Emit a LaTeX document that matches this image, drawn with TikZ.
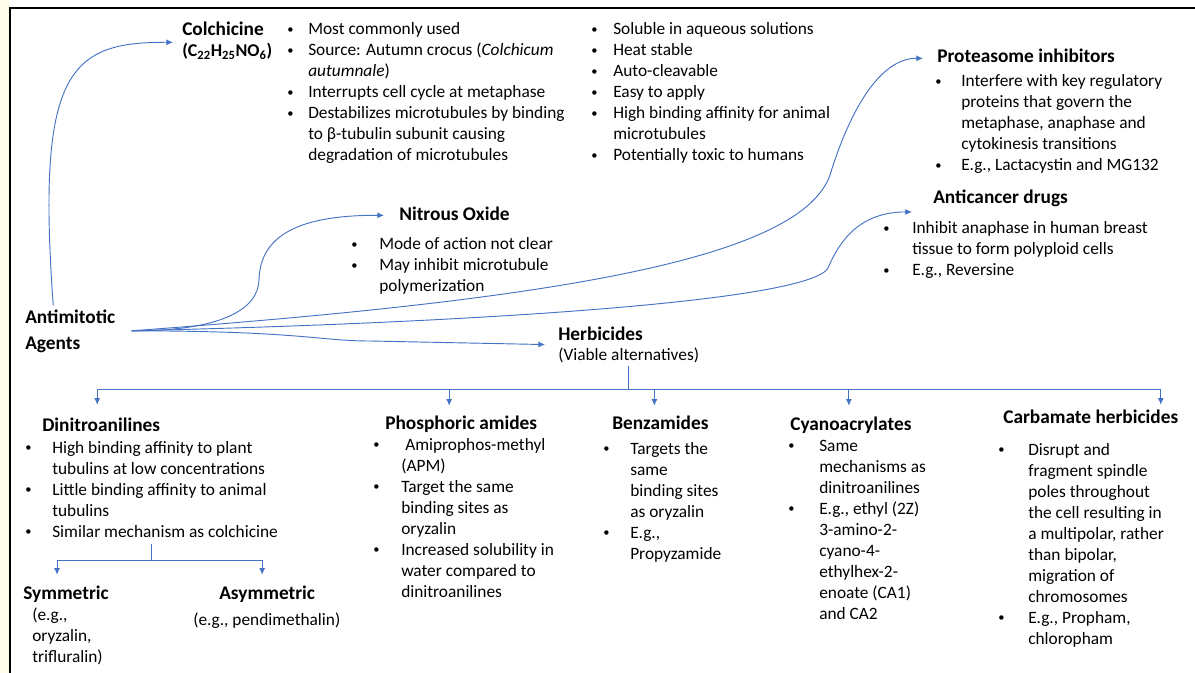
\documentclass[tikz,border=0pt]{standalone}
\usepackage{fontspec}
\setmainfont{Carlito}
\usepackage{graphicx}
\usepackage{tikz}
\usetikzlibrary{arrows.meta}
\usepackage{xcolor}
\definecolor{linkblue}{RGB}{68,114,196}
\definecolor{cream}{RGB}{255,252,236}
\newlength{\px}
\setlength{\px}{0.75pt}
\newcommand{\hd}{\fontsize{14.5}{17.4}\selectfont\bfseries}
\newcommand{\bu}{\raisebox{0.8pt}{\scalebox{0.72}{\textbullet}}}
\newcommand{\itemlist}[2]{\begin{tabular}[t]{@{}p{#1\px}@{}l@{}}#2\end{tabular}}

\begin{document}
\begin{tikzpicture}[x=0.75pt, y=-0.75pt,
    head/.style={font=\hd, inner sep=0pt, anchor=base west, text height=10.5pt, text depth=3.5pt},
    body/.style={font=\fontsize{13}{15.75}\selectfont, inner sep=0pt, anchor=base west},
    link/.style={draw=linkblue, line width=0.7pt},
    tip/.style={-{Latex[length=5pt,width=4.5pt]}}]

\useasboundingbox (0,0) rectangle (1195,673);
\fill[cream] (0,0) rectangle (9,673);
\draw[line width=1.6pt] (10,673) -- (10,8) -- (1195,8);

% source
\node[body, font=\fontsize{14.5}{19.5}\selectfont\bfseries] (agents) at (25,324)
    {\begin{tabular}[t]{@{}l@{}}Antimitotic\\Agents\end{tabular}};
\coordinate (hub) at ([shift={(16,-1)}]agents.east);

% colchicine
\node[body] (colch) at (182,36) {\begin{tabular}[t]{@{}l@{}}{\hd Colchicine}\\
    \fontsize{13.5}{15.75}\selectfont\bfseries (C\textsubscript{22}H\textsubscript{25}NO\textsubscript{6})\end{tabular}};
\node[body] (colchA) at (287,35) {\itemlist{21}{
    \bu & Most commonly used\\
    \bu & Source: Autumn crocus (\textit{Colchicum}\\
     & \textit{autumnale})\\
    \bu & Interrupts cell cycle at metaphase\\
    \bu & Destabilizes microtubules by binding\\
     & to β-tubulin subunit causing\\
     & degradation of microtubules}};
\node[body] (colchB) at (591,35) {\itemlist{22}{
    \bu & Soluble in aqueous solutions\\
    \bu & Heat stable\\
    \bu & Auto-cleavable\\
    \bu & Easy to apply\\
    \bu & High binding affinity for animal\\
     & microtubules\\
    \bu & Potentially toxic to humans}};

% proteasome inhibitors
\node[head] (prot) at (937,63) {Proteasome inhibitors};
\node[body] (protlist) at (935,87) {\itemlist{26}{
    \bu & Interfere with key regulatory\\
     & proteins that govern the\\
     & metaphase, anaphase and\\
     & cytokinesis transitions\\
    \bu & E.g., Lactacystin and MG132}};

% anticancer drugs
\node[head] (cancer) at (933,204) {Anticancer drugs};
\node[body] (cancerlist) at (883,234) {\itemlist{29}{
    \bu & Inhibit anaphase in human breast\\
     & tissue to form polyploid cells\\
    \bu & E.g., Reversine}};

% nitrous oxide
\node[head] (nitrous) at (399,221) {Nitrous Oxide};
\node[body] (nitrouslist) at (351,250) {\itemlist{28}{
    \bu & Mode of action not clear\\
    \bu & May inhibit microtubule\\
     & polymerization}};

% herbicides
\node[body, font=\fontsize{13}{14.25}\selectfont] (herb) at (558,341)
    {\begin{tabular}[t]{@{}l@{}}{\hd Herbicides}\\(Viable alternatives)\end{tabular}};

\node[head] (dinit) at (42,431) {Dinitroanilines};
\node[body] (dinitlist) at (25,453) {\itemlist{27}{
    \bu & High binding affinity to plant\\
     & tubulins at low concentrations\\
    \bu & Little binding affinity to animal\\
     & tubulins\\
    \bu & Similar mechanism as colchicine}};
\node[head] (sym) at (23,599) {Symmetric};
\node[body] (symex) at (32,620) {\begin{tabular}[t]{@{}l@{}}(e.g.,\\oryzalin,\\trifluralin)\end{tabular}};
\node[head] (asym) at (219,599) {Asymmetric};
\node[body] (asymex) at (193,625) {(e.g., pendimethalin)};

\node[head] (phos) at (385,429) {Phosphoric amides};
\node[body] (phoslist) at (373,450) {\itemlist{28}{
    \bu & \hspace{4\px}Amiprophos-methyl\\
     & (APM)\\
    \bu & Target the same\\
     & binding sites as\\
     & oryzalin\\
    \bu & Increased solubility in\\
     & water compared to\\
     & dinitroanilines}};

\node[head] (benz) at (612,429) {Benzamides};
\node[body] (benzlist) at (603,454) {\itemlist{27}{
    \bu & Targets the\\
     & same\\
     & binding sites\\
     & as oryzalin\\
    \bu & E.g.,\\
     & Propyzamide}};

\node[head] (cyano) at (790,430) {Cyanoacrylates};
\node[body] (cyanolist) at (788,451) {\itemlist{31}{
    \bu & Same\\
     & mechanisms as\\
     & dinitroanilines\\
    \bu & E.g., ethyl (2Z)\\
     & 3-amino-2-\\
     & cyano-4-\\
     & ethylhex-2-\\
     & enoate (CA1)\\
     & and CA2}};

\node[head] (carb) at (1003,423) {Carbamate herbicides};
\node[body] (carblist) at (998,455) {\itemlist{30}{
    \bu & Disrupt and\\
     & fragment spindle\\
     & poles throughout\\
     & the cell resulting in\\
     & a multipolar, rather\\
     & than bipolar,\\
     & migration of\\
     & chromosomes\\
    \bu & E.g., Propham,\\
     & chloropham}};

% curved links from the agents
\draw[link,tip] ([shift={(-17,0)}]agents.north) .. controls (36,70) and (70,42) .. ([shift={(-9,0)}]colch.west);
\draw[link,tip] (hub) .. controls (220,331) and (258,310) .. (259,280)
    .. controls (260,235) and (300,215) .. ([shift={(-15,-1)}]nitrous.west);
\draw[link,tip] (hub) .. controls (550,300) and (800,260) .. (830,175)
    .. controls (850,110) and (880,58) .. ([shift={(-14,0)}]prot.west);
\draw[link,tip] (hub) .. controls (500,322) and (810,300) .. (828,268)
    .. controls (840,240) and (860,212) .. ([shift={(-21,3)}]cancer.south west);
\draw[link,tip] (hub) .. controls (300,331) and (320,341) .. (370,341) -- ([shift={(-13,-2)}]herb.west);

% herbicide classes
\draw[link,tip] (herb.south) -- ++(0,23) -| ([shift={(-4,-12)}]dinit.north);
\draw[link,tip] (herb.south) -- ++(0,23) -| ([shift={(-12,-9)}]phos.north);
\draw[link,tip] (herb.south) -- ++(0,23) -| ([shift={(-6,-9)}]benz.north);
\draw[link,tip] (herb.south) -- ++(0,23) -| ([shift={(-2,-10)}]cyano.north);
\draw[link,tip] (herb.south) -- ++(0,23) -| ([shift={(70,-4)}]carb.north);

\draw[link,tip] (dinitlist.south) -- ++(0,17) -| ([shift={(-9,-10)}]sym.north);
\draw[link,tip] (dinitlist.south) -- ++(0,17) -| ([shift={(-5,-10)}]asym.north);
\end{tikzpicture}
\end{document}
